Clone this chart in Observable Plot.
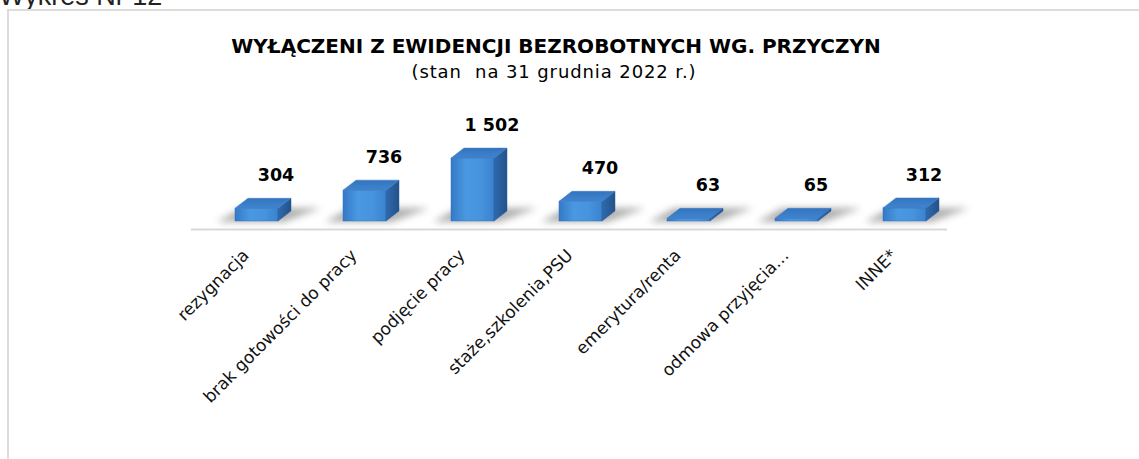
<!DOCTYPE html>
<html>
<head>
<meta charset="utf-8">
<script src="https://cdn.jsdelivr.net/npm/d3@7"></script>
<script src="https://cdn.jsdelivr.net/npm/@observablehq/plot@0.6"></script>
<style>
  html, body { margin: 0; padding: 0; background: #fff; overflow: hidden; }
  #page { position: relative; width: 1139px; height: 459px; overflow: hidden; }
  #caption { position: absolute; left: -1px; top: -19px; font-family: "Liberation Sans", Arial, sans-serif; font-size: 27px; color: #222; white-space: nowrap; line-height: 30px; }
  #frame { position: absolute; left: 7px; top: 9px; width: 1200px; height: 520px; border: 2px solid #dcdcdc; box-sizing: border-box; }
  #title { position: absolute; left: 0; width: 1112px; top: 36px; text-align: center; font-family: "DejaVu Sans", sans-serif; font-weight: bold; font-size: 20px; line-height: 20px; color: #000; white-space: nowrap; }
  #subtitle { position: absolute; left: 0; width: 1108px; top: 63px; text-align: center; font-family: "DejaVu Sans", sans-serif; font-size: 18px; letter-spacing: 0.9px; line-height: 18px; color: #000; white-space: pre; }
  #chart { position: absolute; left: 0; top: 0; }
  g[aria-label="tick-label"] text { letter-spacing: 1.4px; }
</style>
</head>
<body>
<div id="page">
  <div id="caption">Wykres Nr 12</div>
  <div id="frame"></div>
  <div id="title">WYŁĄCZENI Z EWIDENCJI BEZROBOTNYCH WG. PRZYCZYN</div>
  <div id="subtitle">(stan  na 31 grudnia 2022 r.)</div>
  <div id="chart"></div>
</div>
<script>
// ---- data ----
const categories = [
  "rezygnacja",
  "brak gotowości do pracy",
  "podjęcie pracy",
  "staże,szkolenia,PSU",
  "emerytura/renta",
  "odmowa przyjęcia…",
  "INNE*"
];
const values = [304, 736, 1502, 470, 63, 65, 312];

const data = categories.map((c, i) => ({category: c, value: values[i]}));
const fmt = d3.formatLocale({decimal: ",", thousands: "\u00a0", grouping: [3], currency: ["", " zł"]}).format(",d");

// 3D depth (pixels)
const DX = 13, DY = 10;

function bandGeom(scales, d) {
  const bw = scales.x.bandwidth ? scales.x.bandwidth() : scales.scales.x.bandwidth;
  const x0 = scales.x(d.category);
  const x1 = x0 + bw;
  const yt = scales.y(d.value);
  const yb = scales.y(0);
  return {x0, x1, yt, yb};
}

function shadowRender(index, scales) {
  const g = d3.create("svg:g");
  for (const i of index) {
    const {x0, x1, yb} = bandGeom(scales, data[i]);
    const pts = [[x0 - 18, yb + 1], [x1 + 6, yb + 1], [x1 + DX + 30, yb - DY - 3], [x0 + DX - 6, yb - DY - 3]];
    g.append("polygon")
      .attr("points", pts.map(p => p.join(",")).join(" "))
      .attr("fill", "#6f6f6f")
      .attr("opacity", 0.55)
      .attr("filter", "url(#blurShadow)");
  }
  return g.node();
}

function depthRender(index, scales) {
  const g = d3.create("svg:g");
  for (const i of index) {
    const {x0, x1, yt, yb} = bandGeom(scales, data[i]);
    const side = [[x1, yb], [x1, yt], [x1 + DX, yt - DY], [x1 + DX, yb - DY]];
    const top = [[x0, yt], [x1, yt], [x1 + DX, yt - DY], [x0 + DX, yt - DY]];
    g.append("polygon")
      .attr("points", side.map(p => p.join(",")).join(" "))
      .attr("fill", "url(#gSide)")
      .attr("stroke", "#2a5d9a").attr("stroke-width", 0.5).attr("stroke-linejoin", "round");
    g.append("polygon")
      .attr("points", top.map(p => p.join(",")).join(" "))
      .attr("fill", "url(#gTop)")
      .attr("stroke", "#3a78c0").attr("stroke-width", 0.5).attr("stroke-linejoin", "round");
  }
  return g.node();
}

const chart = Plot.plot({
  width: 1139,
  height: 459,
  marginLeft: 203,
  marginRight: 180,
  marginTop: 154,
  marginBottom: 238,
  style: {background: "transparent", overflow: "visible"},
  x: {domain: categories, paddingInner: 0.6, paddingOuter: 0.3, axis: null},
  y: {domain: [0, 1600], axis: null},
  marks: [
    Plot.ruleY([0], {stroke: "#d9d9d9", strokeWidth: 2, dx: -12, dy: 8}),
    Plot.barY(data, {x: "category", y: "value", render: shadowRender}),
    Plot.barY(data, {x: "category", y: "value", fill: "url(#gFront)", stroke: "#3676bd", strokeWidth: 0.5}),
    Plot.barY(data, {x: "category", y: "value", render: depthRender}),
    Plot.text(data, {
      x: "category", y: "value", text: d => fmt(d.value),
      dx: 19, dy: -33, fontSize: 17.5, fontWeight: "bold",
      fontFamily: "DejaVu Sans", fill: "#000"
    }),
    Plot.text(categories, {
      x: d => d, frameAnchor: "bottom", rotate: -45, textAnchor: "end", lineAnchor: "middle",
      dx: -11, dy: 31, fontSize: 17, fontFamily: "DejaVu Sans", fill: "#111",
      ariaLabel: "tick-label"
    })
  ]
});

// gradients & filters
const svg = d3.select(chart);
const defs = svg.insert("defs", ":first-child");
const gf = defs.append("linearGradient").attr("id", "gFront").attr("x1", "0").attr("x2", "1").attr("y1", "0").attr("y2", "0");
gf.append("stop").attr("offset", "0").attr("stop-color", "#3479c6");
gf.append("stop").attr("offset", "0.35").attr("stop-color", "#4b98e2");
gf.append("stop").attr("offset", "0.7").attr("stop-color", "#4793dd");
gf.append("stop").attr("offset", "1").attr("stop-color", "#3a82cf");
const gt = defs.append("linearGradient").attr("id", "gTop").attr("x1", "0").attr("x2", "0").attr("y1", "1").attr("y2", "0");
gt.append("stop").attr("offset", "0").attr("stop-color", "#3f84cf");
gt.append("stop").attr("offset", "1").attr("stop-color", "#3474bf");
const gs = defs.append("linearGradient").attr("id", "gSide").attr("x1", "0").attr("x2", "1").attr("y1", "0").attr("y2", "0");
gs.append("stop").attr("offset", "0").attr("stop-color", "#2f6aae");
gs.append("stop").attr("offset", "1").attr("stop-color", "#245289");
const flt = defs.append("filter").attr("id", "blurShadow").attr("x", "-50%").attr("y", "-100%").attr("width", "200%").attr("height", "300%");
flt.append("feGaussianBlur").attr("stdDeviation", 3.5);

document.getElementById("chart").appendChild(chart);
</script>
</body>
</html>
